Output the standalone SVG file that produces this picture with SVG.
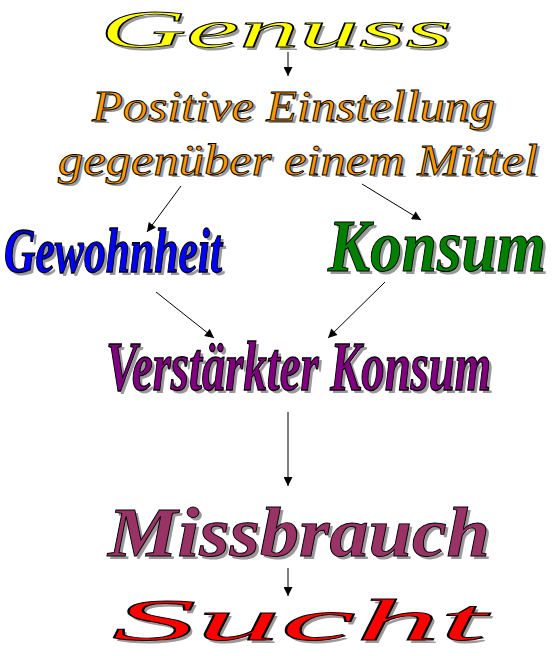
<svg xmlns="http://www.w3.org/2000/svg" width="556" height="656" viewBox="0 0 556 656">
<style>
text{font-family:"Liberation Serif","DejaVu Serif",serif;font-style:italic;font-weight:bold}
.sh{fill:#999999;stroke:none}
.fg{stroke:#000000;stroke-width:0.9}
.thin{font-weight:normal}
.conn line{stroke:#000000;stroke-width:1}
</style>
<defs>
<marker id="ah" viewBox="0 0 10 10" refX="10" refY="5" markerWidth="10" markerHeight="9" markerUnits="userSpaceOnUse" orient="auto">
<path d="M0,0 L10,5 L0,10 z" fill="#000000"/>
</marker>
</defs>
<rect width="556" height="656" fill="#ffffff"/>
<g id="genuss">
<text class="sh thin" x="103" y="50" font-size="53" textLength="352" lengthAdjust="spacingAndGlyphs">Genuss</text>
<text class="fg thin" x="100" y="47" font-size="53" fill="#FFFF00" textLength="352" lengthAdjust="spacingAndGlyphs">Genuss</text>
</g>
<g id="positive">
<text class="sh thin" x="95" y="123" font-size="44" textLength="403" lengthAdjust="spacingAndGlyphs">Positive Einstellung</text>
<text class="fg thin" x="92" y="121" font-size="44" fill="#FF9900" textLength="403" lengthAdjust="spacingAndGlyphs">Positive Einstellung</text>
<text class="sh thin" x="61" y="177" font-size="44" textLength="480" lengthAdjust="spacingAndGlyphs">gegenüber einem Mittel</text>
<text class="fg thin" x="58" y="175" font-size="44" fill="#FF9900" textLength="480" lengthAdjust="spacingAndGlyphs">gegenüber einem Mittel</text>
</g>
<g id="gewohnheit">
<text class="sh" transform="translate(7,275) scale(1,1.45)" font-size="44" textLength="218" lengthAdjust="spacingAndGlyphs">Gewohnheit</text>
<text class="fg" transform="translate(4,272) scale(1,1.45)" font-size="44" fill="#0000FF" textLength="218" lengthAdjust="spacingAndGlyphs">Gewohnheit</text>
</g>
<g id="konsum">
<text class="sh" transform="translate(331,274) scale(1,1.15)" font-size="64" textLength="218" lengthAdjust="spacingAndGlyphs">Konsum</text>
<text class="fg" transform="translate(328,271) scale(1,1.15)" font-size="64" fill="#008000" textLength="218" lengthAdjust="spacingAndGlyphs">Konsum</text>
</g>
<g id="verstaerkter">
<text class="sh" transform="translate(109,393) scale(1,1.5)" font-size="46" textLength="385" lengthAdjust="spacingAndGlyphs">Verstärkter Konsum</text>
<text class="fg" transform="translate(106,390) scale(1,1.5)" font-size="46" fill="#800080" textLength="385" lengthAdjust="spacingAndGlyphs">Verstärkter Konsum</text>
</g>
<g id="missbrauch">
<text class="sh" x="111" y="559" font-size="70" textLength="382" lengthAdjust="spacingAndGlyphs">Missbrauch</text>
<text class="fg" x="108" y="556" font-size="70" fill="#993366" textLength="382" lengthAdjust="spacingAndGlyphs">Missbrauch</text>
</g>
<g id="sucht">
<text class="sh thin" x="115" y="643" font-size="60" textLength="375" lengthAdjust="spacingAndGlyphs">Sucht</text>
<text class="fg thin" x="112" y="640" font-size="60" fill="#FF0000" textLength="375" lengthAdjust="spacingAndGlyphs">Sucht</text>
</g>
<g id="connectors" class="conn">
<line x1="288" y1="52" x2="288" y2="76" marker-end="url(#ah)"/>
<line x1="181" y1="186" x2="147" y2="232" marker-end="url(#ah)"/>
<line x1="362" y1="184" x2="421" y2="220" marker-end="url(#ah)"/>
<line x1="156" y1="292" x2="214" y2="338" marker-end="url(#ah)"/>
<line x1="385" y1="282" x2="328" y2="338" marker-end="url(#ah)"/>
<line x1="288" y1="412" x2="288" y2="486" marker-end="url(#ah)"/>
<line x1="288" y1="568" x2="288" y2="596" marker-end="url(#ah)"/>
</g>
</svg>
